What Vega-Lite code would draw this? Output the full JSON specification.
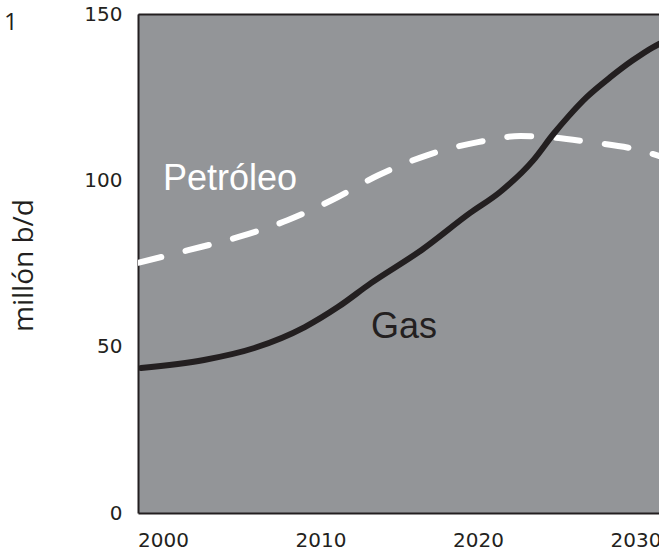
{
  "$schema": "https://vega.github.io/schema/vega-lite/v6.json",
  "autosize": {"type": "none"},
  "padding": {"left": 138, "top": 14, "right": 0, "bottom": 37},
  "width": 521,
  "height": 499,
  "background": "#ffffff",
  "title": {
    "text": "1",
    "orient": "top",
    "anchor": "start",
    "frame": "group",
    "offset": 0,
    "baseline": "top",
    "dx": -134,
    "dy": 31,
    "font": "Open Sans",
    "fontSize": 24,
    "fontWeight": "normal",
    "color": "#231f20"
  },
  "config": {
    "view": {"fill": "#939598", "stroke": null},
    "axis": {
      "grid": false,
      "ticks": false,
      "tickSize": 0,
      "domainColor": "#231f20",
      "domainWidth": 2,
      "labelFont": "DejaVu Sans",
      "labelFontSize": 20,
      "labelColor": "#231f20",
      "titleFont": "Open Sans",
      "titleColor": "#231f20",
      "titleFontWeight": "normal"
    }
  },
  "datasets": {
    "gas": [
      {"year": 1998.6, "value": 43.6},
      {"year": 2002.6, "value": 46},
      {"year": 2005.8, "value": 49.6},
      {"year": 2009.0, "value": 55.9},
      {"year": 2011.1, "value": 61.9},
      {"year": 2013.2, "value": 69.1},
      {"year": 2016.4, "value": 79},
      {"year": 2019.5, "value": 90.2},
      {"year": 2021.4, "value": 96.5},
      {"year": 2023.5, "value": 106},
      {"year": 2024.8, "value": 114},
      {"year": 2025.7, "value": 119},
      {"year": 2026.9, "value": 125},
      {"year": 2028.4, "value": 131},
      {"year": 2029.8, "value": 136},
      {"year": 2031.1, "value": 140},
      {"year": 2031.5, "value": 141}
    ],
    "oil": [
      {"year": 1998.41, "value": 75.2},
      {"year": 2001.6, "value": 79},
      {"year": 2004.8, "value": 83},
      {"year": 2007.9, "value": 88},
      {"year": 2010.7, "value": 94},
      {"year": 2013.7, "value": 101.6},
      {"year": 2016.8, "value": 107.6},
      {"year": 2020.0, "value": 111.5},
      {"year": 2022.7, "value": 113.3},
      {"year": 2024.5, "value": 113},
      {"year": 2027.1, "value": 111.5},
      {"year": 2030.3, "value": 109},
      {"year": 2031.5, "value": 107.3}
    ],
    "labels": [
      {"label": "Petróleo", "year": 2000.0, "value": 97.1},
      {"label": "Gas", "year": 2013.2, "value": 52.6}
    ]
  },
  "resolve": {"axis": {"x": "independent", "y": "independent"}},
  "layer": [
    {
      "data": {"name": "oil"},
      "mark": {"type": "line", "color": "#ffffff", "strokeWidth": 6, "strokeDash": [24, 25], "strokeCap": "round", "interpolate": "monotone", "clip": true},
      "encoding": {
        "x": {"field": "year", "type": "quantitative",
          "scale": {"domain": [1998.41, 2031.49], "nice": false, "zero": false},
          "axis": {"orient": "top", "labels": false, "title": null, "domain": true, "values": []}},
        "y": {"field": "value", "type": "quantitative",
          "scale": {"domain": [0, 150], "nice": false},
          "axis": {"orient": "left", "values": [0, 50, 100, 150], "labelPadding": 16, "labelBaseline": "middle",
            "title": "millón b/d", "titleFontSize": 28, "titleX": -106, "titleY": 251, "titleAngle": -90, "titleAlign": "center", "titleBaseline": "alphabetic"}}
      }
    },
    {
      "data": {"name": "gas"},
      "mark": {"type": "line", "color": "#231f20", "strokeWidth": 6, "strokeCap": "round", "interpolate": "monotone", "clip": true},
      "encoding": {
        "x": {"field": "year", "type": "quantitative",
          "axis": {"orient": "bottom", "values": [2000, 2010, 2020, 2030], "format": "d", "labelPadding": 17, "title": null, "labelOverlap": false, "labelFlush": false}},
        "y": {"field": "value", "type": "quantitative", "axis": null}
      }
    },
    {
      "data": {"name": "labels"},
      "mark": {"type": "text", "align": "left", "baseline": "alphabetic", "font": "Liberation Sans", "fontSize": 36},
      "encoding": {
        "x": {"field": "year", "type": "quantitative", "axis": null},
        "y": {"field": "value", "type": "quantitative", "axis": null},
        "text": {"field": "label"},
        "color": {"field": "label", "type": "nominal", "scale": {"domain": ["Petróleo", "Gas"], "range": ["#ffffff", "#231f20"]}, "legend": null}
      }
    }
  ]
}
